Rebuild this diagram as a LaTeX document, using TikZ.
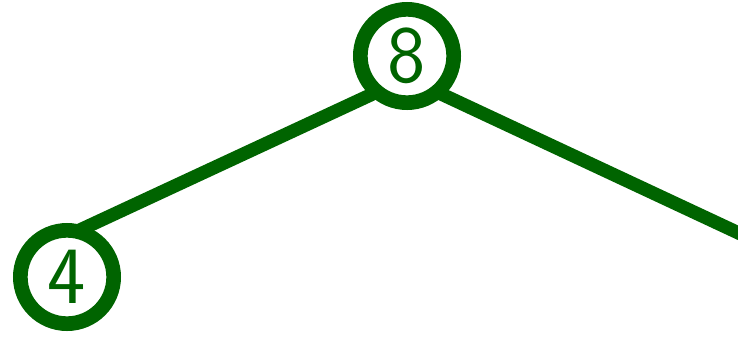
\documentclass[tikz,border=0pt]{standalone}
\usepackage{tikz}
\usetikzlibrary{backgrounds}
\definecolor{treeg}{HTML}{006400}

\begin{document}
\begin{tikzpicture}[x=0.75pt,y=0.75pt,
  vtx/.style={circle,draw=treeg,fill=white,line width=11pt,minimum size=70pt,inner sep=0pt,text=treeg,font=\sffamily\fontsize{61}{61}\selectfont},
  lnk/.style={draw=treeg,line width=10pt}]
\useasboundingbox (0,0) rectangle (738,337);
\clip (0,0) rectangle (738,337);
\node[vtx] (n8) at (407,281) {8};
\node[vtx] (n4) at (67,60) {4};
\coordinate (n12) at (745,101);
\begin{scope}[on background layer]
  \draw[lnk] ([yshift=-16.5pt]n8.center) -- ([yshift=30.75pt]n4.center);
  \draw[lnk] ([yshift=-16.5pt]n8.center) -- (n12);
\end{scope}
\end{tikzpicture}
\end{document}
